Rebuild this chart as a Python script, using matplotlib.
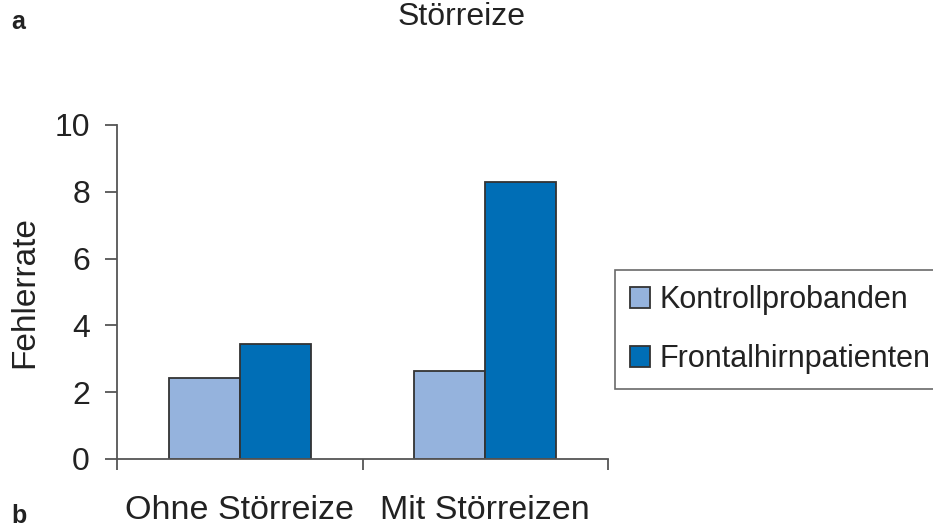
import matplotlib
matplotlib.use("Agg")
import matplotlib.pyplot as plt
import numpy as np

# values
categories = ["Ohne Störreize", "Mit Störreizen"]
groups = ["Kontrollprobanden", "Frontalhirnpatienten"]
kontroll = [2.43, 2.62]
frontal = [3.43, 8.3]
colors = ["#95B3DD", "#006EB6"]
yticks = [0, 2, 4, 6, 8, 10]

plt.rcParams['font.family'] = ['Liberation Sans', 'DejaVu Sans']
txt = "#222222"
spine = "#555555"

fig = plt.figure(figsize=(9.33, 5.28), dpi=100)
ax = fig.add_axes([0.1254, 0.1307, 0.5263, 0.6326])

x = np.arange(len(categories))
w = 0.29
ax.bar(x - w / 2, kontroll, w, color=colors[0], edgecolor="#333333", linewidth=1.3, label=groups[0])
ax.bar(x + w / 2, frontal, w, color=colors[1], edgecolor="#333333", linewidth=1.3, label=groups[1])

ax.set_xlim(-0.5, 1.5)
ax.set_ylim(0, 10)
ax.set_yticks(yticks)
ax.set_xticks(x)
ax.set_xticklabels(categories)
ax.set_xticks([-0.5, 0.5, 1.5], minor=True)

for s in ["top", "right"]:
    ax.spines[s].set_visible(False)
for s in ["left", "bottom"]:
    ax.spines[s].set_color(spine)
    ax.spines[s].set_linewidth(1.3)

ax.tick_params(axis="y", direction="out", length=8.5, width=1.3, color=spine,
               labelsize=23, labelcolor=txt, pad=11)
ax.tick_params(axis="x", which="major", length=0, labelsize=24.5, labelcolor=txt, pad=26)
ax.tick_params(axis="x", which="minor", direction="out", length=8, width=1.3, color=spine)

ax.set_ylabel("Fehlerrate", fontsize=24, color=txt, labelpad=10)

fig.text(0.495, 0.968, "Störreize", fontsize=23, color=txt, ha="center", va="center")
fig.text(0.02, 0.958, "a", fontsize=18, fontweight="bold", color=txt, ha="center", va="center")
fig.text(0.02, 0.022, "b", fontsize=18, fontweight="bold", color=txt, ha="center", va="center")

leg = fig.legend(loc="upper left", bbox_to_anchor=(0.659, 0.489), fontsize=22,
                 frameon=True, fancybox=False, edgecolor="#444444",
                 handlelength=0.65, handleheight=0.65, handletextpad=0.3,
                 labelspacing=0.95, borderpad=0.5, borderaxespad=0)
leg.get_frame().set_linewidth(1.2)
for t in leg.get_texts():
    t.set_color(txt)

fig.savefig("out.png", dpi=100)
